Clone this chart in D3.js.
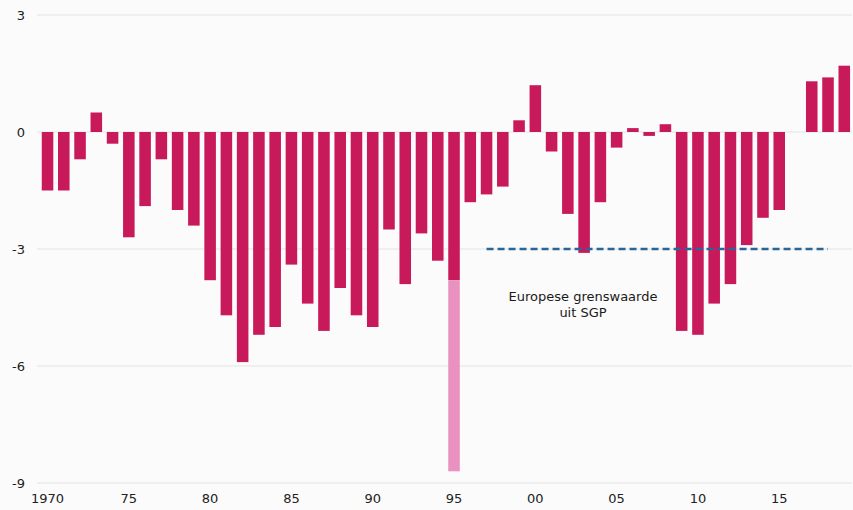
<!DOCTYPE html>
<html>
<head>
<meta charset="utf-8">
<script src="https://cdn.jsdelivr.net/npm/d3@7"></script>
<style>
  html, body { margin: 0; padding: 0; background: #fbfbfb; }
  svg { display: block; }
  text { font-family: "DejaVu Sans", Verdana, sans-serif; }
</style>
</head>
<body>
<svg id="chart" width="853" height="510"></svg>
<script>
// ---- data ----
const years = d3.range(1970, 2020);
const balance = [
  -1.5, -1.5, -0.7, 0.5, -0.3, -2.7, -1.9, -0.7, -2.0, -2.4,
  -3.8, -4.7, -5.9, -5.2, -5.0, -3.4, -4.4, -5.1, -4.0, -4.7,
  -5.0, -2.5, -3.9, -2.6, -3.3, -3.8, -1.8, -1.6, -1.4, 0.3,
  1.2, -0.5, -2.1, -3.1, -1.8, -0.4, 0.1, -0.1, 0.2, -5.1,
  -5.2, -4.4, -3.9, -2.9, -2.2, -2.0, 0.0, 1.3, 1.4, 1.7
];
const oneOffYears = [1995];
const oneOffValues = [-4.9];
const yTicks = [3, 0, -3, -6, -9];
const xTickYears = [1970, 1975, 1980, 1985, 1990, 1995, 2000, 2005, 2010, 2015];
const xTickLabels = ["1970", "75", "80", "85", "90", "95", "00", "05", "10", "15"];
const limitValue = -3;
const limitFrom = 1997, limitTo = 2018;
const annotationLines = ["Europese grenswaarde", "uit SGP"];

// ---- layout ----
const svg = d3.select("#chart");
const x = d3.scaleBand().domain(years).range([39.4, 852.4])
  .paddingInner(0.29).paddingOuter(0.145);
const y = d3.scaleLinear().domain([-9, 3]).range([483, 15]);

// gridlines
svg.append("g").selectAll("line").data(yTicks).join("line")
  .attr("x1", 37).attr("x2", 852)
  .attr("y1", d => y(d)).attr("y2", d => y(d))
  .attr("stroke", "#e3e3e3").attr("stroke-width", 1);

// y labels
svg.append("g").selectAll("text").data(yTicks).join("text")
  .attr("x", 25).attr("y", d => y(d) + 4.5)
  .attr("text-anchor", "end")
  .attr("font-size", 13).attr("fill", "#222")
  .text(d => d);

// x labels
svg.append("g").selectAll("text").data(xTickYears).join("text")
  .attr("x", d => x(d) + x.bandwidth() / 2).attr("y", 503)
  .attr("text-anchor", "middle")
  .attr("font-size", 13).attr("fill", "#222")
  .text((d, i) => xTickLabels[i]);

// main bars
svg.append("g").selectAll("rect").data(years).join("rect")
  .attr("x", d => x(d))
  .attr("width", x.bandwidth())
  .attr("y", (d, i) => y(Math.max(0, balance[i])))
  .attr("height", (d, i) => Math.abs(y(balance[i]) - y(0)))
  .attr("fill", "#c8195b");

// one-off (stacked below)
svg.append("g").selectAll("rect").data(oneOffYears).join("rect")
  .attr("x", d => x(d))
  .attr("width", x.bandwidth())
  .attr("y", (d, i) => y(balance[years.indexOf(d)]))
  .attr("height", (d, i) => y(balance[years.indexOf(d)] + oneOffValues[i]) - y(balance[years.indexOf(d)]))
  .attr("fill", "#e992bf");

// limit dashed line
svg.append("line")
  .attr("x1", x(limitFrom) + x.bandwidth() / 2)
  .attr("x2", x(limitTo) + x.bandwidth() / 2)
  .attr("y1", y(limitValue)).attr("y2", y(limitValue))
  .attr("stroke", "#2a6597").attr("stroke-width", 2.5)
  .attr("stroke-dasharray", "7,4");

// annotation
svg.append("g").selectAll("text").data(annotationLines).join("text")
  .attr("x", 583).attr("y", (d, i) => 301 + i * 16)
  .attr("text-anchor", "middle")
  .attr("font-size", 13).attr("fill", "#1a1a1a")
  .text(d => d);
</script>
</body>
</html>
